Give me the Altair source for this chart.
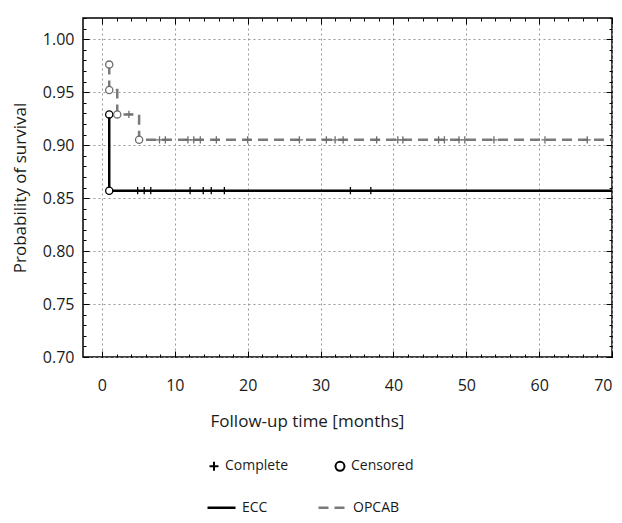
import altair as alt
import pandas as pd

# ---------------- data ----------------
groups = ["ECC", "OPCAB"]
group_colors = ["#000000", "#7a7a7a"]
group_dash = [[1, 0], [10, 6]]
kinds = ["Complete", "Censored"]

# Kaplan-Meier step vertices (step-after)
ecc_time = [1.0, 1.0, 70.0]
ecc_surv = [0.929, 0.857, 0.857]
opcab_time = [1.0, 1.0, 2.1, 5.1, 70.0]
opcab_surv = [0.976, 0.952, 0.929, 0.905, 0.905]

# open circle markers
ecc_circle_time = [1.0, 1.0]
ecc_circle_surv = [0.929, 0.857]
opcab_circle_time = [1.0, 1.0, 2.1, 5.1]
opcab_circle_surv = [0.976, 0.952, 0.929, 0.905]

# plus markers
ecc_plus_time = [4.9, 5.8, 6.7, 12.1, 13.9, 15.0, 16.8, 34.1, 36.9]
ecc_plus_surv = [0.857, 0.857, 0.857, 0.857, 0.857, 0.857, 0.857, 0.857, 0.857]
opcab_plus_time = [3.7, 7.9, 8.7, 11.8, 12.6, 13.5, 15.7, 20.0, 27.1, 30.8, 32.0,
                   33.1, 37.7, 40.6, 41.3, 46.2, 47.0, 49.0, 49.8, 53.8, 60.8, 66.6]
opcab_plus_surv = [0.929, 0.905, 0.905, 0.905, 0.905, 0.905, 0.905, 0.905, 0.905,
                   0.905, 0.905, 0.905, 0.905, 0.905, 0.905, 0.905, 0.905, 0.905,
                   0.905, 0.905, 0.905, 0.905]

x_major = [0, 10, 20, 30, 40, 50, 60, 70]
x_minor = list(range(0, 72, 2))
y_major = [0.70, 0.75, 0.80, 0.85, 0.90, 0.95, 1.00]
y_minor = [round(0.70 + 0.01 * i, 2) for i in range(33)]
x_domain = [-2.6, 70]
y_domain = [0.70, 1.02]

# ---------------- tables ----------------
line_rows = []
for g, ts, ss in [("ECC", ecc_time, ecc_surv), ("OPCAB", opcab_time, opcab_surv)]:
    for i, (t, s) in enumerate(zip(ts, ss)):
        line_rows.append({"group": g, "t": t, "s": s, "idx": i})
lines_df = pd.DataFrame(line_rows)


def marker_table(circ_t, circ_s, plus_t, plus_s):
    rows = [{"kind": "Censored", "t": t, "s": s} for t, s in zip(circ_t, circ_s)]
    rows += [{"kind": "Complete", "t": t, "s": s} for t, s in zip(plus_t, plus_s)]
    return pd.DataFrame(rows)


ecc_pts = marker_table(ecc_circle_time, ecc_circle_surv, ecc_plus_time, ecc_plus_surv)
opcab_pts = marker_table(opcab_circle_time, opcab_circle_surv, opcab_plus_time, opcab_plus_surv)
circles_df = pd.DataFrame({"t": ecc_circle_time + opcab_circle_time,
                           "s": ecc_circle_surv + opcab_circle_surv})

FONT = "Open Sans"
TXT = "#1a1a1a"
PLUS = "M-1,0L1,0M0,-1L0,1"

xs = alt.Scale(domain=x_domain, nice=False, zero=False)
ys = alt.Scale(domain=y_domain, nice=False, zero=False)


def xaxis(orient, values, size, main=False):
    kw = dict(orient=orient, values=values, offset=-size, tickSize=size,
              tickColor="black", tickWidth=1, domain=False)
    if main:
        kw.update(labels=True, format="d", labelFontSize=16, labelFont=FONT,
                  labelColor=TXT, labelPadding=20, grid=True, gridColor="#999999",
                  gridDash=[2, 3], gridWidth=1, title="Follow-up time [months]",
                  titleFont=FONT, titleFontSize=17, titleFontWeight="normal",
                  titleColor=TXT, titleX=224, titleAlign="center", titlePadding=20)
    else:
        kw.update(labels=False, grid=False, title=None)
    return alt.Axis(**kw)


def yaxis(orient, values, size, main=False):
    kw = dict(orient=orient, values=values, offset=-size, tickSize=size,
              tickColor="black", tickWidth=1, domain=False)
    if main:
        kw.update(labels=True, format=".2f", labelFontSize=16, labelFont=FONT,
                  labelColor=TXT, labelPadding=9, grid=True, gridColor="#999999",
                  gridDash=[2, 3], gridWidth=1, title="Probability of survival",
                  titleFont=FONT, titleFontSize=17, titleFontWeight="normal",
                  titleColor=TXT, titlePadding=13)
    else:
        kw.update(labels=False, grid=False, title=None)
    return alt.Axis(**kw)


line_legend = alt.Legend(orient="none", legendX=123, legendY=474, direction="horizontal",
                         title=None, symbolType="stroke", symbolSize=784,
                         symbolStrokeWidth=2.5, labelFontSize=14, labelFont=FONT,
                         labelColor=TXT, labelOffset=5, columnPadding=45, padding=0)

lines = alt.Chart(lines_df).mark_line(interpolate="step-after", strokeWidth=2.5).encode(
    x=alt.X("t:Q", scale=xs, axis=xaxis("bottom", x_major, 6, True)),
    y=alt.Y("s:Q", scale=ys, axis=yaxis("left", y_major, 6, True)),
    color=alt.Color("group:N", scale=alt.Scale(domain=groups, range=group_colors),
                    legend=line_legend),
    strokeDash=alt.StrokeDash("group:N", scale=alt.Scale(domain=groups, range=group_dash),
                              legend=line_legend),
    order="idx:Q",
)

# white discs under the open circles so that the lines do not show through
masks = alt.Chart(circles_df).mark_circle(color="white", opacity=1, size=40).encode(
    x=alt.X("t:Q", scale=xs, axis=xaxis("top", x_major, 6)),
    y=alt.Y("s:Q", scale=ys, axis=yaxis("right", y_major, 6)),
)

shape_legend = alt.Legend(orient="none", legendX=124, legendY=441, direction="horizontal",
                          title=None, symbolSize=80, symbolStrokeWidth=2,
                          symbolStrokeColor="black",
                          labelFontSize=14, labelFont=FONT, labelColor=TXT,
                          labelOffset=4, columnPadding=42, padding=0)
shape_scale = alt.Scale(domain=kinds, range=[PLUS, "circle"])

ecc_points = alt.Chart(ecc_pts).mark_point(color="#000000", strokeWidth=1.3,
                                           opacity=1, size=52).encode(
    x=alt.X("t:Q", scale=xs, axis=xaxis("bottom", x_minor, 3)),
    y=alt.Y("s:Q", scale=ys, axis=yaxis("left", y_minor, 3)),
    shape=alt.Shape("kind:N", scale=shape_scale, legend=shape_legend),
)
opcab_points = alt.Chart(opcab_pts).mark_point(color="#6e6e6e", strokeWidth=1.3,
                                               opacity=1, size=52).encode(
    x=alt.X("t:Q", scale=xs, axis=xaxis("top", x_minor, 3)),
    y=alt.Y("s:Q", scale=ys, axis=yaxis("right", y_minor, 3)),
    shape=alt.Shape("kind:N", scale=shape_scale, legend=shape_legend),
)

chart = alt.layer(lines, masks, ecc_points, opcab_points).resolve_axis(
    x="independent", y="independent"
).properties(
    width=529, height=339,
    autosize=alt.AutoSizeParams(type="none"),
    padding={"left": 75, "top": 10, "right": 2, "bottom": 158},
).configure_view(stroke="black", strokeWidth=1.5)

chart.save("out.html", embed_options={"renderer": "svg", "actions": False})
